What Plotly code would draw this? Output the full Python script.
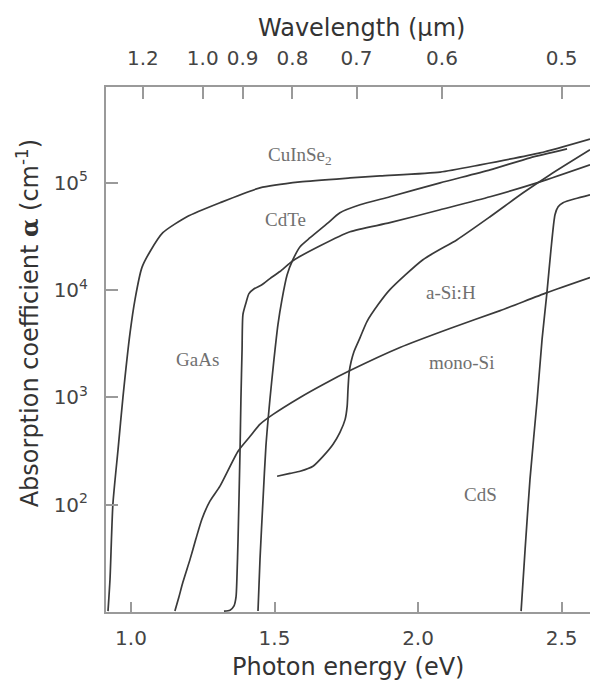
import math
import plotly.graph_objects as go

# ---------------- data (photon energy in eV, absorption coefficient in cm^-1) ----------------
cuinse2_E = [0.920, 0.927, 0.937, 0.955, 0.972, 0.997, 1.014, 1.038, 1.066, 1.111, 1.195, 1.310,
             1.449, 1.589, 1.763, 1.868, 2.077, 2.216, 2.425, 2.599]
cuinse2_a = [10.2, 20.3, 101, 328, 1000, 4030, 8170, 16200, 22800, 34300, 48300, 65200,
             89700, 102000, 111000, 116000, 126000, 147000, 190000, 256000]

cdte_E = [1.4425, 1.4495, 1.460, 1.470, 1.484, 1.498, 1.512, 1.526, 1.544, 1.564, 1.589, 1.624,
          1.683, 1.728, 1.798, 1.902, 2.077, 2.251, 2.390, 2.519]
cdte_a = [10.2, 31.1, 112, 350, 957, 2250, 4780, 8170, 13900, 19200, 25400, 30800,
          41600, 52600, 62400, 74100, 100000, 132000, 171000, 207000]

gaas_E = [1.324, 1.345, 1.359, 1.366, 1.369, 1.373, 1.380, 1.383, 1.387, 1.390, 1.401, 1.411,
          1.429, 1.456, 1.484, 1.519, 1.564, 1.659, 1.763, 1.902, 2.077, 2.251, 2.425, 2.599]
gaas_a = [10.2, 10.4, 11.4, 13.8, 20.3, 47.8, 328, 957, 2800, 5920, 7660, 9270,
          10300, 11200, 12800, 14900, 18800, 25900, 35000, 42500, 56100, 74100, 102000, 147000]

asih_E = [1.509, 1.554, 1.589, 1.634, 1.669, 1.704, 1.728, 1.746, 1.753, 1.756, 1.760, 1.767,
          1.777, 1.798, 1.822, 1.861, 1.902, 2.017, 2.136, 2.251, 2.366, 2.460, 2.599]
asih_a = [184, 196, 205, 228, 282, 366, 472, 624, 824, 1190, 1710, 2160,
          2680, 3610, 5090, 7330, 10100, 19200, 29500, 48300, 80700, 119000, 203000]

monosi_E = [1.153, 1.167, 1.181, 1.206, 1.226, 1.247, 1.275, 1.310, 1.373, 1.415, 1.449, 1.495,
            1.589, 1.676, 1.763, 1.937, 2.111, 2.286, 2.449, 2.599]
monosi_a = [10.2, 13.8, 19.0, 31.1, 47.8, 73.3, 108, 149, 315, 434, 561, 695,
            1000, 1350, 1780, 2920, 4390, 6440, 9480, 13100]

cds_E = [2.359, 2.373, 2.390, 2.415, 2.432, 2.449, 2.463, 2.477, 2.488, 2.505, 2.547, 2.599]
cds_a = [10.2, 38.5, 173, 957, 3470, 9480, 23800, 50400, 59800, 65200, 71000, 77300]

# curve labels: name, energy, alpha
label_text = ["CuInSe<sub>2</sub>", "CdTe", "GaAs", "a-Si:H", "mono-Si", "CdS"]
label_E = [1.589, 1.537, 1.233, 2.115, 2.150, 2.216]
label_a = [178000, 45300, 2250, 9480, 2120, 125]

# axes ticks
energy_ticks = [1.0, 1.5, 2.0, 2.5]
energy_ticktext = ["1.0", "1.5", "2.0", "2.5"]
alpha_ticks = [1e2, 1e3, 1e4, 1e5]
alpha_ticktext = ["10<sup>2</sup>", "10<sup>3</sup>", "10<sup>4</sup>", "10<sup>5</sup>"]
wavelength_ticks = [1.2, 1.0, 0.9, 0.8, 0.7, 0.6, 0.5]
wavelength_ticktext = ["1.2", "1.0", "0.9", "0.8", "0.7", "0.6", "0.5"]
HC = 1.25  # eV·µm scale used for the wavelength axis of the original artwork

# ---------------- figure ----------------
LINE = dict(color="#3a3a3a", width=1.7)
fig = go.Figure()
for E, a in [(cuinse2_E, cuinse2_a), (cdte_E, cdte_a), (gaas_E, gaas_a),
             (asih_E, asih_a), (monosi_E, monosi_a), (cds_E, cds_a)]:
    fig.add_trace(go.Scatter(x=E, y=a, mode="lines", line=dict(LINE, shape="spline", smoothing=0.6),
                             showlegend=False, hoverinfo="skip"))

# invisible trace so the top axis is drawn
fig.add_trace(go.Scatter(x=[], y=[], xaxis="x2", yaxis="y", showlegend=False))

for t, e, a in zip(label_text, label_E, label_a):
    fig.add_annotation(x=e, y=math.log10(a), xref="x", yref="y", text=t, showarrow=False,
                       font=dict(family="Liberation Serif", size=19, color="#707070"))

TICKFONT = dict(family="DejaVu Sans", size=20, color="#444444")
AXCOL = "#9a9a9a"
xr = [0.913, 2.599]

fig.update_layout(
    width=590, height=680,
    margin=dict(l=106, r=0, t=87, b=68),
    paper_bgcolor="white", plot_bgcolor="white",
    xaxis=dict(range=xr, tickvals=energy_ticks, ticktext=energy_ticktext,
               ticks="inside", ticklen=10, tickwidth=1.5, tickcolor=AXCOL,
               showline=True, linecolor=AXCOL, linewidth=2, showgrid=False, zeroline=False,
               tickfont=TICKFONT, ticklabelstandoff=7),
    xaxis2=dict(range=xr, overlaying="x", side="top", anchor="y",
                tickvals=[HC / w for w in wavelength_ticks], ticktext=wavelength_ticktext,
                ticks="inside", ticklen=12, tickwidth=1.5, tickcolor=AXCOL,
                showline=True, linecolor=AXCOL, linewidth=2, showgrid=False, zeroline=False,
                tickfont=TICKFONT, ticklabelstandoff=12),
    yaxis=dict(type="log", range=[1.0, 5.893], tickvals=alpha_ticks, ticktext=alpha_ticktext,
               ticks="inside", ticklen=12, tickwidth=1.5, tickcolor=AXCOL,
               showline=True, linecolor=AXCOL, linewidth=2, showgrid=False, zeroline=False,
               tickfont=TICKFONT, ticklabelstandoff=12),
)

TITLEFONT = dict(family="DejaVu Sans", size=24, color="#333333")
fig.add_annotation(xref="paper", yref="paper", x=0.5, y=-0.104, text="Photon energy (eV)",
                   showarrow=False, font=TITLEFONT, xanchor="center", yanchor="middle")
fig.add_annotation(xref="paper", yref="paper", x=0.527, y=1.112, text="Wavelength (µm)",
                   showarrow=False, font=TITLEFONT, xanchor="center", yanchor="middle")
fig.add_annotation(xref="paper", yref="paper", x=-0.161, y=0.55, textangle=-90,
                   text="Absorption coefficient <span style=\"font-family:'DejaVu Serif';font-weight:bold\">α</span> (cm<sup>-1</sup>)",
                   showarrow=False, font=TITLEFONT, xanchor="center", yanchor="middle")

fig.write_html("out.html")
